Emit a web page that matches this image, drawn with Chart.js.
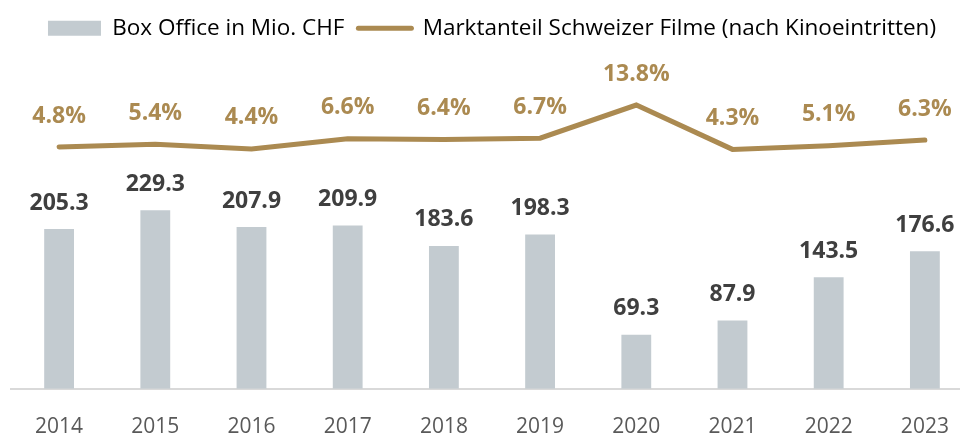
<!DOCTYPE html>
<html>
<head>
<meta charset="utf-8">
<script src="https://cdn.jsdelivr.net/npm/chart.js@4"></script>
<style>
  html, body { margin: 0; padding: 0; background: #fff; overflow: hidden; }
  #wrap { width: 975px; height: 466px; position: relative; }
</style>
</head>
<body>
<div id="wrap"><canvas id="chart"></canvas></div>
<script>
// Box Office Schweiz und Marktanteil Schweizer Filme
const years = ['2014', '2015', '2016', '2017', '2018', '2019', '2020', '2021', '2022', '2023'];
const boxOffice = [205.3, 229.3, 207.9, 209.9, 183.6, 198.3, 69.3, 87.9, 143.5, 176.6];
const marketShare = [4.8, 5.4, 4.4, 6.6, 6.4, 6.7, 13.8, 4.3, 5.1, 6.3];

const barColor = '#c3cbd0';
const lineColor = '#ab8a51';
const fontFamily = "'Open Sans', sans-serif";

Chart.defaults.font.family = fontFamily;
Chart.defaults.color = '#595959';

const valueLabels = {
    id: 'valueLabels',
    afterDatasetsDraw(chart) {
        const ctx = chart.ctx;
        ctx.save();
        ctx.textAlign = 'center';
        ctx.textBaseline = 'middle';

        chart.getDatasetMeta(0).data.forEach((bar, i) => {
            ctx.font = `bold 23px ${fontFamily}`;
            ctx.fillStyle = '#3f3f3f';
            ctx.fillText(boxOffice[i].toFixed(1), bar.x, bar.y - 26);
        });

        chart.getDatasetMeta(1).data.forEach((pt, i) => {
            ctx.font = `bold 23px ${fontFamily}`;
            ctx.fillStyle = lineColor;
            ctx.fillText(marketShare[i].toFixed(1) + '%', pt.x, pt.y - 31);
        });
        ctx.restore();
    }
};

new Chart(document.getElementById('chart'), {
    data: {
        labels: years,
        datasets: [{
            type: 'bar',
            label: 'Box Office in Mio. CHF',
            data: boxOffice,
            backgroundColor: barColor,
            categoryPercentage: 1,
            barPercentage: 0.31,
            yAxisID: 'y'
        }, {
            type: 'line',
            label: 'Marktanteil Schweizer Filme (nach Kinoeintritten)',
            data: marketShare,
            borderColor: lineColor,
            borderWidth: 5,
            borderCapStyle: 'round',
            tension: 0,
            pointRadius: 0,
            yAxisID: 'y1'
        }]
    },
    options: {
        responsive: true,
        maintainAspectRatio: false,
        animation: false,
        layout: { padding: { left: 11, right: 2, top: 3, bottom: 0 } },
        plugins: {
            tooltip: { enabled: false },
            legend: {
                position: 'top',
                labels: {
                    usePointStyle: true,
                    pointStyleWidth: 53,
                    boxHeight: 15,
                    padding: 14,
                    color: '#595959',
                    font: { size: 22.5 },
                    generateLabels(chart) {
                        return [{
                            text: chart.data.datasets[0].label,
                            pointStyle: 'rect',
                            fillStyle: barColor,
                            strokeStyle: barColor,
                            lineWidth: 0,
                            datasetIndex: 0
                        }, {
                            text: chart.data.datasets[1].label,
                            pointStyle: 'line',
                            fillStyle: lineColor,
                            strokeStyle: lineColor,
                            lineWidth: 5,
                            lineCap: 'round',
                            datasetIndex: 1
                        }];
                    }
                }
            }
        },
        scales: {
            x: {
                grid: { display: false, drawTicks: false },
                border: { display: true, color: '#d9d9d9', width: 2 },
                ticks: { padding: 26, color: '#595959', font: { size: 21 } }
            },
            y: {
                display: false,
                min: 0,
                max: 436
            },
            y1: {
                display: false,
                min: -47,
                max: 25.7
            }
        }
    },
    plugins: [valueLabels]
});
</script>
</body>
</html>
